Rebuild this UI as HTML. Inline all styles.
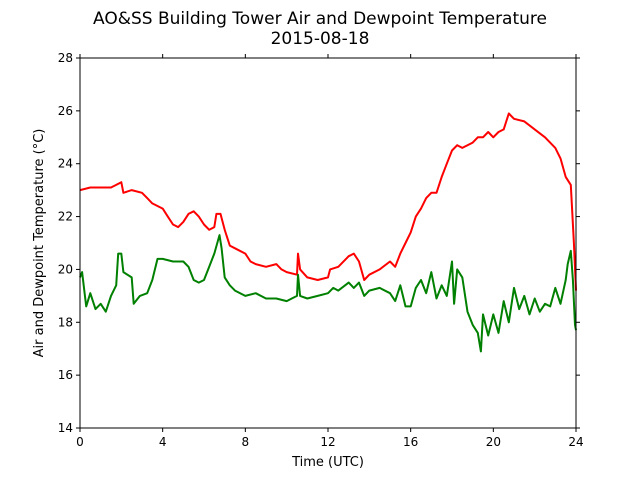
<!DOCTYPE html>
<html><head><meta charset="utf-8"><style>
body{margin:0;background:#fff;font-family:"DejaVu Sans","Liberation Sans",sans-serif}
svg text{font-family:"DejaVu Sans","Liberation Sans",sans-serif}
</style></head><body>
<svg id="chart" width="640" height="480">
<text x="320" y="24" text-anchor="middle" font-size="17">AO&amp;SS Building Tower Air and Dewpoint Temperature</text>
<text x="320" y="44" text-anchor="middle" font-size="17">2015-08-18</text>
<g id="axes"></g>
<g id="series"></g>
<rect x="80" y="58" width="496" height="370" fill="none" stroke="#000" stroke-width="1"/>
<text x="328" y="466" text-anchor="middle" font-size="13">Time (UTC)</text>
<text transform="translate(43,243) rotate(-90)" text-anchor="middle" font-size="13">Air and Dewpoint Temperature (°C)</text>
</svg>
<script>
const xTicks=[0,4,8,12,16,20,24];
const yTicks=[14,16,18,20,22,24,26,28];
const airHours=[0,0.5,1,1.5,1.75,2,2.1,2.5,3,3.25,3.5,4,4.25,4.5,4.75,5,5.25,5.5,5.75,6,6.25,6.5,6.6,6.8,7,7.25,7.5,8,8.25,8.5,9,9.5,9.75,10,10.5,10.55,10.65,11,11.5,12,12.1,12.5,13,13.25,13.5,13.75,14,14.5,15,15.25,15.5,15.75,16,16.25,16.5,16.75,17,17.25,17.5,17.75,18,18.25,18.5,18.75,19,19.25,19.5,19.75,20,20.25,20.5,20.75,21,21.5,22,22.5,23,23.25,23.5,23.75,23.9,24];
const airTemp=[23.0,23.1,23.1,23.1,23.2,23.3,22.9,23.0,22.9,22.7,22.5,22.3,22.0,21.7,21.6,21.8,22.1,22.2,22.0,21.7,21.5,21.6,22.1,22.1,21.5,20.9,20.8,20.6,20.3,20.2,20.1,20.2,20.0,19.9,19.8,20.6,20.0,19.7,19.6,19.7,20.0,20.1,20.5,20.6,20.3,19.6,19.8,20.0,20.3,20.1,20.6,21.0,21.4,22.0,22.3,22.7,22.9,22.9,23.5,24.0,24.5,24.7,24.6,24.7,24.8,25.0,25.0,25.2,25.0,25.2,25.3,25.9,25.7,25.6,25.3,25.0,24.6,24.2,23.5,23.2,21.0,19.2];
const dewHours=[0,0.1,0.3,0.5,0.75,1,1.25,1.5,1.75,1.85,2.0,2.1,2.5,2.6,2.9,3.25,3.5,3.75,4,4.5,5,5.25,5.5,5.75,6,6.25,6.5,6.75,6.85,7,7.25,7.5,8,8.5,9,9.5,10,10.25,10.5,10.55,10.65,11,11.5,12,12.25,12.5,13,13.25,13.5,13.75,14,14.5,15,15.25,15.5,15.75,16,16.25,16.5,16.75,17,17.25,17.5,17.75,18,18.1,18.25,18.5,18.75,19,19.25,19.4,19.5,19.75,20,20.25,20.5,20.75,21,21.25,21.5,21.75,22,22.25,22.5,22.75,23,23.25,23.5,23.6,23.75,23.85,23.95,24];
const dewTemp=[19.7,19.9,18.6,19.1,18.5,18.7,18.4,19.0,19.4,20.6,20.6,19.9,19.7,18.7,19.0,19.1,19.6,20.4,20.4,20.3,20.3,20.1,19.6,19.5,19.6,20.1,20.6,21.3,20.8,19.7,19.4,19.2,19.0,19.1,18.9,18.9,18.8,18.9,19.0,19.8,19.0,18.9,19.0,19.1,19.3,19.2,19.5,19.3,19.5,19.0,19.2,19.3,19.1,18.8,19.4,18.6,18.6,19.3,19.6,19.1,19.9,18.9,19.4,19.0,20.3,18.7,20.0,19.7,18.4,17.9,17.6,16.9,18.3,17.5,18.3,17.6,18.8,18.0,19.3,18.5,19.0,18.3,18.9,18.4,18.7,18.6,19.3,18.7,19.6,20.2,20.7,19.6,17.9,17.7];
const X0=80,X1=576,Y0=428,Y1=58;
const sx=v=>X0+(v-0)/(24-0)*(X1-X0);
const sy=v=>Y0-(v-14)/(28-14)*(Y0-Y1);
const NS='http://www.w3.org/2000/svg';
const axes=document.getElementById('axes'),series=document.getElementById('series');
function mk(tag,attrs,parent){const e=document.createElementNS(NS,tag);for(const k in attrs)e.setAttribute(k,attrs[k]);parent.appendChild(e);return e;}
xTicks.forEach(t=>{
  const l=mk('line',{x1:sx(t),x2:sx(t),y1:Y0,y2:Y0+4,stroke:'#000'},axes);
  
  
  const l2=mk('line',{x1:sx(t),x2:sx(t),y1:Y1,y2:Y1-4,stroke:'#000'},axes);
  
  
  const tx=mk('text',{x:sx(t),y:Y0+18,'text-anchor':'middle','font-size':'12'},axes);tx.textContent=t;
  
  
});
yTicks.forEach(t=>{
  const l=mk('line',{x1:X0-4,x2:X0,y1:sy(t),y2:sy(t),stroke:'#000'},axes);
  
  
  const l2=mk('line',{x1:X1,x2:X1+4,y1:sy(t),y2:sy(t),stroke:'#000'},axes);
  
  
  const tx=mk('text',{x:X0-7,y:sy(t)+4,'text-anchor':'end','font-size':'12'},axes);tx.textContent=t;
  
  
});
function line(xs,ys,color,name){
  const d=xs.map((x,i)=>(i?'L':'M')+sx(x).toFixed(1)+','+sy(ys[i]).toFixed(1)).join('');
  const p=mk('path',{d:d,fill:'none',stroke:color,'stroke-width':'2','stroke-linejoin':'round'},series);
  
  
}
line(airHours,airTemp,'#ff0000','air-temperature-line');
line(dewHours,dewTemp,'#008000','dewpoint-temperature-line');
</script>
</body></html>
